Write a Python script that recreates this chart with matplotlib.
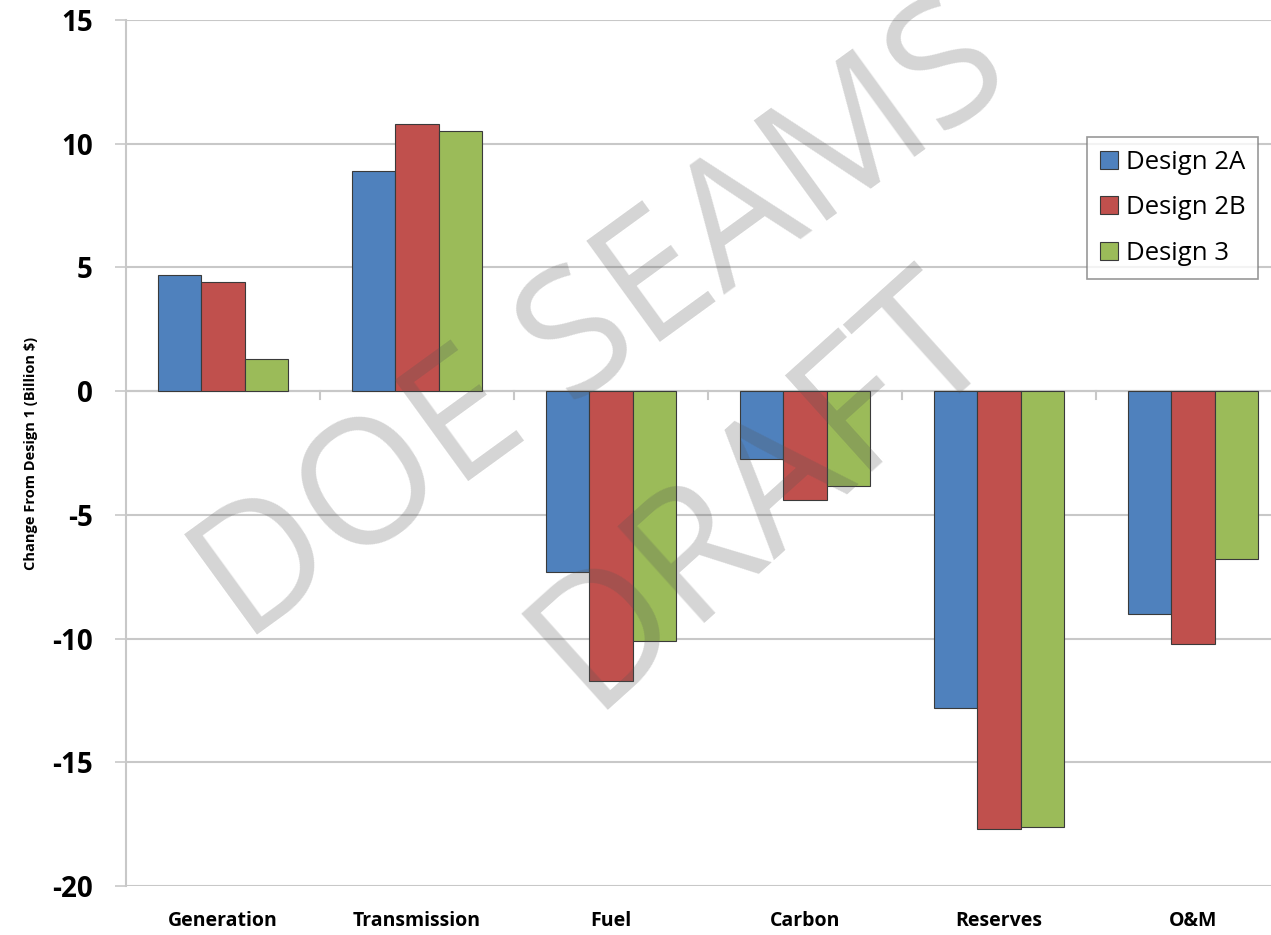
import matplotlib
matplotlib.use("Agg")
import matplotlib.pyplot as plt
import numpy as np

categories = ["Generation", "Transmission", "Fuel", "Carbon", "Reserves", "O&M"]
series_names = ["Design 2A", "Design 2B", "Design 3"]
design_2a = [4.7, 8.9, -7.3, -2.75, -12.8, -9.0]
design_2b = [4.4, 10.8, -11.7, -4.4, -17.7, -10.2]
design_3 = [1.3, 10.5, -10.1, -3.85, -17.6, -6.8]
colors = ["#4F81BD", "#C0504D", "#9BBB59"]
y_ticks = [15, 10, 5, 0, -5, -10, -15, -20]

plt.rcParams["font.family"] = ["Open Sans", "DejaVu Sans"]

fig = plt.figure(figsize=(12.71, 9.35), dpi=100)
ax = fig.add_axes([0.0991, 0.0524, 0.9158, 0.9262])

x = np.arange(len(categories))
width = 0.224
for i, (vals, name) in enumerate(zip([design_2a, design_2b, design_3], series_names)):
    ax.bar(x + (i - 1) * width, vals, width, color=colors[i], edgecolor="#3a3a3a",
           linewidth=0.8, label=name, zorder=3)

ax.set_xlim(-0.5, len(categories) - 0.5)
ax.set_ylim(-20, 15)
ax.set_yticks(y_ticks)
ax.set_yticklabels([str(t) for t in y_ticks], fontsize=20, fontweight="bold")
ax.yaxis.grid(True, color="#c8c8c8", linewidth=1.5, zorder=0)
ax.tick_params(axis="y", length=8, width=1.2, color="#c8c8c8", pad=16)

# category axis sits at zero, labels at the bottom
ax.set_xticks(x)
ax.set_xticklabels(categories, fontsize=14, fontweight="bold")
ax.tick_params(axis="x", length=0, pad=18)
ax.axhline(0, color="#c8c8c8", linewidth=1.5, zorder=2)
for b in np.arange(0.5, len(categories) - 0.5, 1.0):
    ax.plot([b, b], [0, -0.32], color="#c8c8c8", linewidth=1.5, zorder=2)

for s in ["top", "right", "bottom"]:
    ax.spines[s].set_visible(False)
ax.spines["left"].set_color("#c8c8c8")
ax.spines["left"].set_linewidth(1.5)

ax.set_ylabel("Change From Design 1 (Billion $)", fontsize=10.5, fontweight="bold", labelpad=10)

leg = fig.legend(loc="upper right", bbox_to_anchor=(1258 / 1271, 1 - 137 / 935),
                 fontsize=18.5, frameon=True, fancybox=False, edgecolor="#7f7f7f",
                 handlelength=0.7, handleheight=0.7, handletextpad=0.3,
                 labelspacing=0.8, borderpad=0.5, borderaxespad=0)
leg.get_frame().set_linewidth(1.2)
for h in leg.legend_handles:
    h.set_edgecolor("#3a3a3a")
    h.set_linewidth(0.8)

# watermark
fig.text(0.475, 0.65, "DOE SEAMS", fontsize=125, color="#555555", alpha=0.25,
         rotation=36, ha="center", va="center", zorder=10)
fig.text(0.6, 0.475, "DRAFT", fontsize=130, color="#555555", alpha=0.25,
         rotation=42, ha="center", va="center", zorder=10)

fig.savefig("out.png", dpi=100)
